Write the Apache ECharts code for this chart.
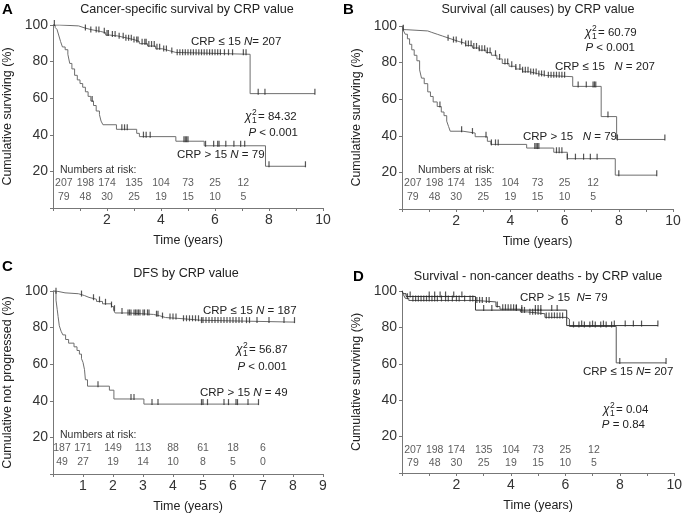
<!DOCTYPE html>
<html>
<head>
<meta charset="utf-8">
<script src="https://cdn.jsdelivr.net/npm/echarts@6/dist/echarts.min.js"></script>
<style>
  html, body { margin: 0; padding: 0; background: #fff; }
  #chart { width: 685px; height: 515px; }
</style>
</head>
<body>
<div id="chart"></div>
<script>
// Kaplan-Meier steps: [time (years), % surviving]
const aLowCrpSteps = [[0,100],[0.25,99.5],[0.95,98.5],[1.15,97.5],[1.4,96.5],[1.75,95.8],[1.95,94.5],[2.1,94],[2.4,93],[2.7,92],[3.0,91],[3.2,89.8],[3.5,88.5],[3.8,87],[4.05,86],[4.3,85],[4.55,84],[7.3,62.5],[9.7,62.5]]
const aHighCrpSteps = [[0,100],[0.08,98.7],[0.15,97.5],[0.22,94],[0.28,91],[0.35,88],[0.45,86.5],[0.55,84],[0.62,79],[0.7,76],[0.8,72.5],[0.9,70],[1.0,68],[1.1,66],[1.2,63.5],[1.3,61],[1.4,58.5],[1.5,56],[1.6,53],[1.72,51],[1.78,47.5],[1.85,45.5],[2.35,43],[3.1,40.8],[3.2,39],[4.55,36.5],[5.6,34],[7.87,22.8],[9.35,22.8]]
const aLowCrpCensor = [0.05,1.2,1.4,1.6,1.7,1.9,2.0,2.05,2.2,2.3,2.45,2.6,2.7,2.8,2.9,3.0,3.1,3.15,3.3,3.4,3.45,3.55,3.65,3.75,3.85,3.95,4.1,4.2,4.4,4.6,4.7,4.8,4.9,5.0,5.1,5.2,5.3,5.4,5.5,5.6,5.7,5.8,5.9,6.0,6.1,6.2,6.35,6.5,6.65,7.05,7.15,7.6,7.85,9.7]
const aHighCrpCensor = [1.45,2.55,2.65,2.75,3.35,3.45,3.6,4.85,4.9,4.95,5.0,5.65,5.95,6.1,6.15,6.4,6.7,6.95,7.1,8.0,9.35]

const bLowCrpSteps = [[0,100],[0.05,98],[0.15,97.3],[0.95,96.5],[1.1,95.5],[1.3,94.5],[1.5,93.5],[1.7,92.5],[1.9,91.5],[2.1,90.5],[2.35,89.3],[2.6,88],[2.85,86.8],[3.1,85.5],[3.3,84],[3.5,82],[3.7,79.5],[3.95,78],[4.2,76.5],[4.45,75],[4.7,74],[5.0,73],[5.3,72.3],[6.3,67],[7.35,50.5],[7.92,38],[9.7,38]]
const bHighCrpSteps = [[0,100],[0.05,97.5],[0.12,95.5],[0.2,93],[0.28,90],[0.36,87],[0.45,84],[0.55,81],[0.65,76],[0.72,71.5],[0.82,68.5],[0.95,64],[1.05,61.5],[1.15,58.5],[1.3,56],[1.45,53],[1.55,51],[1.65,48],[1.72,45],[1.78,42.5],[2.25,41.5],[2.7,39.5],[3.15,37],[3.28,35.3],[4.6,33.3],[5.6,31],[6.1,27.5],[7.87,18.5],[9.4,18.5]]
const bLowCrpCensor = [0.05,1.7,1.9,2.0,2.2,2.35,2.45,2.55,2.65,2.75,2.85,2.95,3.05,3.15,3.25,3.45,3.6,3.8,3.9,4.05,4.2,4.35,4.45,4.55,4.65,4.75,4.85,4.95,5.05,5.15,5.25,5.4,5.5,5.6,5.7,5.8,5.9,6.0,6.5,6.8,7.05,7.1,7.15,7.6,7.95,9.7]
const bHighCrpCensor = [1.4,2.2,2.6,3.1,3.3,3.45,3.55,4.9,4.95,5.0,5.05,5.7,5.8,5.9,6.1,6.4,6.7,6.95,7.2,8.0,9.4]

const cLowCrpSteps = [[0,100],[0.1,99],[0.4,98.5],[0.85,97.5],[1.05,96.5],[1.2,95.5],[1.45,94.3],[1.65,93],[1.95,91.5],[2.02,89.5],[2.07,88],[2.5,87.2],[3.35,86.5],[3.55,85.5],[3.75,85],[4.2,84],[4.95,83],[8.05,83]]
const cHighCrpSteps = [[0,100],[0.1,95],[0.14,90],[0.17,86],[0.21,81],[0.27,78],[0.33,76],[0.42,73.5],[0.52,71.5],[0.7,69.5],[0.8,67.5],[0.88,65.5],[0.95,63],[1.0,61],[1.05,57],[1.08,51.5],[1.15,48],[1.88,45.8],[2.03,41],[3.03,38.2],[6.85,38.2]]
const cLowCrpCensor = [0.1,0.95,1.35,1.55,1.75,1.95,2.05,2.3,2.5,2.55,2.6,2.7,2.75,2.8,2.85,2.9,3.0,3.05,3.15,3.2,3.45,3.5,3.65,3.9,4.0,4.1,4.35,4.45,4.55,4.65,4.75,4.85,4.95,5.0,5.1,5.2,5.3,5.4,5.5,5.6,5.7,5.8,5.9,6.0,6.1,6.2,6.3,6.45,6.55,6.8,7.2,7.7,8.05]
const cHighCrpCensor = [1.5,2.6,2.7,3.3,3.5,4.95,5.0,5.15,5.7,5.85,6.1,6.15,6.5,6.85]

const dHighCrpSteps = [[0,100],[0.05,98.5],[0.15,97],[2.7,89.5],[6.05,81],[9.4,81]]
const dLowCrpSteps = [[0,100],[0.05,98],[0.12,96],[0.25,94.8],[2.7,94],[3.45,91.5],[3.6,90],[4.35,88.5],[4.6,87.5],[5.25,85.5],[6.05,84.5],[6.15,80.5],[7.87,60.5],[9.7,60.5]]
const dLowCrpCensor = [0.2,0.4,0.5,0.6,0.7,0.8,0.9,1.0,1.1,1.2,1.3,1.45,1.6,1.7,1.85,2.0,2.1,2.3,2.5,2.6,2.75,2.85,2.95,3.1,3.2,3.5,3.7,3.8,3.9,4.0,4.1,4.2,4.4,4.5,4.7,4.8,4.9,5.0,5.1,5.3,5.4,5.5,5.6,5.7,5.8,5.9,6.3,6.5,6.7,6.9,7.1,7.3,7.5,7.7,8.0,9.7]
const dHighCrpCensor = [0.3,1.0,1.2,1.4,1.6,1.9,2.2,3.0,3.3,4.2,4.4,4.9,5.0,5.1,5.5,5.7,6.6,7.0,7.4,7.8,8.2,8.5,8.8,9.4]

// numbers at risk (same cohort in A, B, D)
const riskTimes = [0.4, 1.2, 2, 3, 4, 5, 6, 7.05]
const riskLowCrp = [207, 198, 174, 135, 104, 73, 25, 12]
const riskHighCrp = [79, 48, 30, 25, 19, 15, 10, 5]
const riskTimesC = [0.3, 1, 2, 3, 4, 5, 6, 7]
const riskLowCrpC = [187, 171, 149, 113, 88, 61, 18, 6]
const riskHighCrpC = [49, 27, 19, 14, 10, 8, 5, 0]

const yTicks = [0, 20, 40, 60, 80, 100]

const FONT = '"Liberation Sans", Arial, Helvetica, sans-serif'
const grids = [
  { left: 52, top: 25, width: 271, height: 183 },
  { left: 402, top: 26, width: 271, height: 183 },
  { left: 52, top: 291, width: 271, height: 183 },
  { left: 402, top: 291, width: 273, height: 182 }
]
const xMax = [10, 10, 9, 10]
const xStep = [2, 2, 1, 2]
const yNames = ['Cumulative surviving (%)', 'Cumulative surviving (%)', 'Cumulative not progressed (%)', 'Cumulative surviving (%)']

const survAt = (steps, t) => {
  let s = steps[0][1]
  for (const [x, y] of steps) if (x <= t) s = y
  return s
}

const kmLine = (i, steps, color) => ({
  type: 'line', xAxisIndex: i, yAxisIndex: i, step: 'end', data: steps,
  showSymbol: false, symbol: 'none', silent: true,
  lineStyle: { color, width: 1 }, z: 3
})

const censor = (i, steps, times, color) => ({
  type: 'scatter', xAxisIndex: i, yAxisIndex: i, silent: true,
  symbol: 'rect', symbolSize: [1.2, 6], symbolOffset: [0, -2],
  itemStyle: { color },
  data: times.map(t => [t, survAt(steps, t)]), z: 4
})

// row sits a fixed number of pixels above the x axis
const riskRow = (i, times, counts, pxAboveAxis) => ({
  type: 'scatter', xAxisIndex: i, yAxisIndex: i, silent: true,
  symbolSize: 1, itemStyle: { color: 'transparent' },
  label: {
    show: true, position: 'inside', color: '#333',
    fontFamily: FONT, fontSize: 10.5,
    formatter: p => String(p.value[2])
  },
  data: times.map((t, k) => [t, pxAboveAxis / grids[i].height * 100, counts[k]])
})

const txt = (x, y, text, o = {}) => ({
  type: 'text', x, y, silent: true,
  style: {
    text, fill: o.fill || '#222',
    font: o.font || `11.5px ${FONT}`,
    align: o.align || 'left', verticalAlign: 'middle',
    rich: { i: { fontStyle: 'italic', fontSize: 11.5, fontFamily: FONT, fill: '#222' } }
  }
})

const chi = (x, y, rest) => [
  txt(x, y, 'χ', { font: `italic 12px ${FONT}` }),
  txt(x + 7, y - 4, '2', { font: `8.5px ${FONT}` }),
  txt(x + 7, y + 4, '1', { font: `8.5px ${FONT}` }),
  txt(x + 13, y, rest)
]

const titleFont = `12.6px ${FONT}`
const letterFont = `bold 15px ${FONT}`

const graphics = [
  txt(2, 10, 'A', { font: letterFont, fill: '#000' }),
  txt(343, 10, 'B', { font: letterFont, fill: '#000' }),
  txt(2, 267, 'C', { font: letterFont, fill: '#000' }),
  txt(353, 277, 'D', { font: letterFont, fill: '#000' }),
  txt(187, 10, 'Cancer-specific survival by CRP value', { font: titleFont, align: 'center' }),
  txt(538, 10, 'Survival (all causes) by CRP value', { font: titleFont, align: 'center' }),
  txt(186, 274, 'DFS by CRP value', { font: titleFont, align: 'center' }),
  txt(538, 277, 'Survival - non-cancer deaths - by CRP value', { font: titleFont, align: 'center' }),

  txt(191, 42, 'CRP ≤ 15 {i|N}= 207'),
  txt(177, 155, 'CRP > 15 {i|N} = 79'),
  ...chi(245, 117, '= 84.32'),
  txt(298, 133, '{i|P} < 0.001', { align: 'right' }),
  txt(60, 170, 'Numbers at risk:', { font: `10.5px ${FONT}`, fill: '#333' }),

  txt(555, 67, 'CRP ≤ 15   {i|N} = 207'),
  txt(523, 137, 'CRP > 15   {i|N} = 79'),
  ...chi(585, 33, '= 60.79'),
  txt(635, 48, '{i|P} < 0.001', { align: 'right' }),
  txt(418, 170, 'Numbers at risk:', { font: `10.5px ${FONT}`, fill: '#333' }),

  txt(203, 311, 'CRP ≤ 15 {i|N} = 187'),
  txt(200, 393, 'CRP > 15 {i|N} = 49'),
  ...chi(236, 350, '= 56.87'),
  txt(287, 367, '{i|P} < 0.001', { align: 'right' }),
  txt(60, 435, 'Numbers at risk:', { font: `10.5px ${FONT}`, fill: '#333' }),

  txt(520, 298, 'CRP > 15  {i|N}= 79'),
  txt(583, 372, 'CRP ≤ 15 {i|N}= 207'),
  ...chi(603, 410, '= 0.04'),
  txt(645, 425, '{i|P} = 0.84', { align: 'right' })
]

const axisColor = '#777'
const xAxes = grids.map((g, i) => ({
  type: 'value', gridIndex: i, min: 0, max: xMax[i], interval: xStep[i],
  name: 'Time (years)', nameLocation: 'middle', nameGap: 26,
  nameTextStyle: { fontFamily: FONT, fontSize: 12.5, color: '#222' },
  axisLine: { show: true, onZero: false, lineStyle: { color: axisColor, width: 1 } },
  axisTick: { show: true, length: 3, lineStyle: { color: axisColor } },
  minorTick: { show: xStep[i] === 2, splitNumber: 2, length: 3, lineStyle: { color: axisColor } },
  axisLabel: { fontFamily: FONT, fontSize: 14, color: '#333', margin: 5, formatter: v => (v === 0 ? '' : v) },
  splitLine: { show: false }
}))

const yAxes = grids.map((g, i) => ({
  type: 'value', gridIndex: i, min: 0, max: 100, interval: 20,
  name: yNames[i], nameLocation: 'middle', nameGap: 39, nameRotate: 90,
  nameTextStyle: { fontFamily: FONT, fontSize: 12.5, color: '#222' },
  axisLine: { show: true, lineStyle: { color: axisColor, width: 1 } },
  axisTick: { show: true, length: 3, lineStyle: { color: axisColor } },
  axisLabel: { fontFamily: FONT, fontSize: 14, color: '#333', margin: 5, formatter: v => (yTicks.includes(v) && v !== 0 ? v : '') },
  splitLine: { show: false }
}))

const grey = '#6e6e6e'
const mark = '#2a2a2a'
const dark = '#333'

const series = [
  kmLine(0, aLowCrpSteps, grey), kmLine(0, aHighCrpSteps, grey),
  censor(0, aLowCrpSteps, aLowCrpCensor, mark), censor(0, aHighCrpSteps, aHighCrpCensor, mark),
  riskRow(0, riskTimes, riskLowCrp, 25), riskRow(0, riskTimes, riskHighCrp, 11),

  kmLine(1, bLowCrpSteps, grey), kmLine(1, bHighCrpSteps, grey),
  censor(1, bLowCrpSteps, bLowCrpCensor, mark), censor(1, bHighCrpSteps, bHighCrpCensor, mark),
  riskRow(1, riskTimes, riskLowCrp, 26), riskRow(1, riskTimes, riskHighCrp, 12),

  kmLine(2, cLowCrpSteps, grey), kmLine(2, cHighCrpSteps, grey),
  censor(2, cLowCrpSteps, cLowCrpCensor, mark), censor(2, cHighCrpSteps, cHighCrpCensor, mark),
  riskRow(2, riskTimesC, riskLowCrpC, 26), riskRow(2, riskTimesC, riskHighCrpC, 12),

  kmLine(3, dLowCrpSteps, '#555'), kmLine(3, dHighCrpSteps, dark),
  censor(3, dLowCrpSteps, dLowCrpCensor, mark), censor(3, dHighCrpSteps, dHighCrpCensor, mark),
  riskRow(3, riskTimes, riskLowCrp, 23), riskRow(3, riskTimes, riskHighCrp, 10)
]

const chart = echarts.init(document.getElementById('chart'), null, { renderer: 'canvas' })
chart.setOption({
  animation: false,
  backgroundColor: '#fff',
  grid: grids,
  xAxis: xAxes,
  yAxis: yAxes,
  series,
  graphic: graphics
})
</script>
</body>
</html>
